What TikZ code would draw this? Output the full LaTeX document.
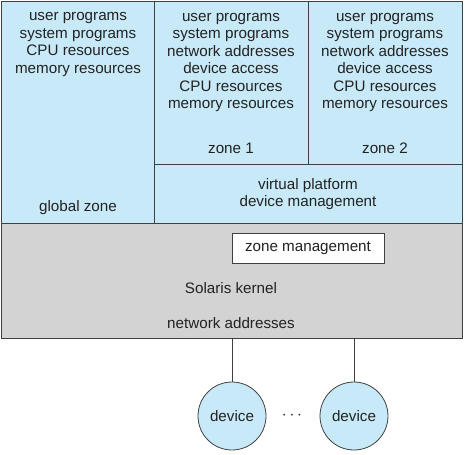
\documentclass[tikz,border=0pt]{standalone}
\usepackage{fontspec}
\setmainfont{Liberation Sans}
\definecolor{zoneblue}{HTML}{C8EAF8}
\definecolor{kernelgray}{HTML}{D3D3D3}
\definecolor{linegray}{HTML}{404040}
\definecolor{textgray}{HTML}{222222}

\begin{document}
\begin{tikzpicture}[x=1pt, y=-1pt,
    box/.style={draw=linegray, line width=0.8pt, anchor=north west, inner sep=0pt, outer sep=0pt},
    lbl/.style={font=\fontsize{15.2}{17.4}\selectfont, align=center, text=textgray}]
        \useasboundingbox (0,0) rectangle (466,455);

        % Draw the kernel and the zones above it
        \node[box, fill=kernelgray, minimum width=461pt, minimum height=115pt] (kernel) at (1,223) {};
        \node[box, fill=zoneblue, minimum width=153pt, minimum height=222pt] (global) at (1,1) {};
        \node[box, fill=zoneblue, minimum width=154pt, minimum height=163pt] (zone1) at (154,1) {};
        \node[box, fill=zoneblue, minimum width=154pt, minimum height=163pt] (zone2) at (308,1) {};
        \node[box, fill=zoneblue, minimum width=308pt, minimum height=59pt] (virt) at (154,164) {};

        % Zone texts
        \node[lbl] (globaltxt) at (78,44.5) {user programs\\system programs\\CPU resources\\memory resources};
        \node[lbl] (globalname) at (78,208) {global zone};
        \node[lbl] (zone1txt) at (231,62.5) {user programs\\system programs\\network addresses\\device access\\CPU resources\\memory resources};
        \node[lbl] (zone1name) at (231,148) {zone 1};
        \node[lbl] (zone2txt) at (385,62.5) {user programs\\system programs\\network addresses\\device access\\CPU resources\\memory resources};
        \node[lbl] (zone2name) at (385,148) {zone 2};
        \node[lbl] (virttxt) at (308,194) {virtual platform\\device management};

        % Kernel texts
        \node[box, lbl, fill=white, minimum width=152pt, minimum height=30pt, align=center] (zonemgmt) at (232,233) {zone management};
        \node[lbl] (solaris) at (231,288) {Solaris kernel};
        \node[lbl] (netaddr) at (231,323) {network addresses};

        % Draw the devices
        \node[circle, draw=linegray, line width=0.8pt, fill=zoneblue, minimum size=68pt, inner sep=0pt, lbl] (dev1) at (232,416) {device};
        \node[circle, draw=linegray, line width=0.8pt, fill=zoneblue, minimum size=68pt, inner sep=0pt, lbl] (dev2) at (354,416) {device};
        \node[lbl, font=\fontsize{18}{18}\selectfont] (dots) at (292,416) {$\cdots$};
        \draw[linegray, line width=1pt] (dev1) -- (dev1 |- kernel.south);
        \draw[linegray, line width=1pt] (dev2) -- (dev2 |- kernel.south);
    \end{tikzpicture}
\end{document}
